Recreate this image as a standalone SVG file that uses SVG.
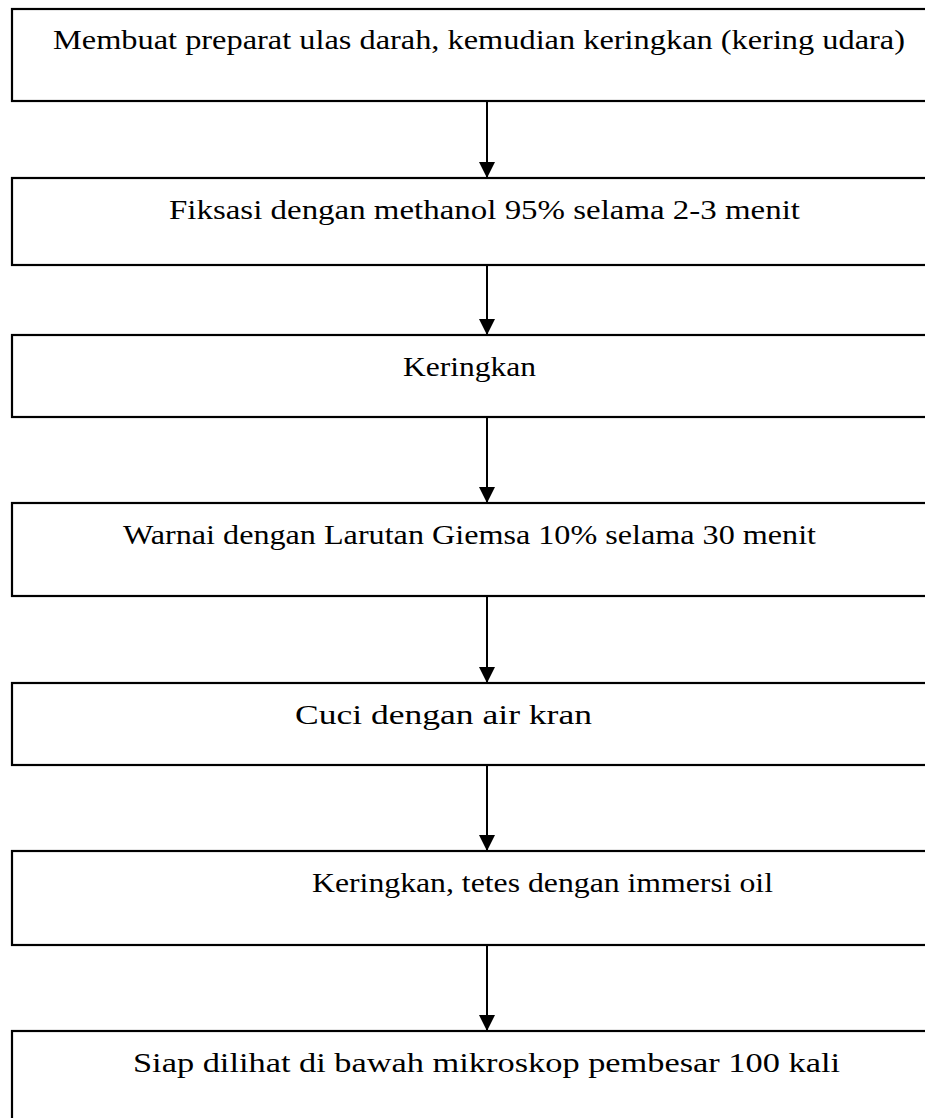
<svg xmlns="http://www.w3.org/2000/svg" width="925" height="1118" viewBox="0 0 925 1118">
<style>
.box{fill:#fff;stroke:#000;stroke-width:2.2}
.lbl{font-family:'Liberation Serif','Times New Roman',Tinos,'Nimbus Roman','Nimbus Roman No9 L',FreeSerif,Times,serif;font-size:28px;fill:#000}
.con{stroke:#000;stroke-width:2;fill:none}
</style>
<defs>
<marker id="ah" markerUnits="userSpaceOnUse" markerWidth="16" markerHeight="17" refX="16" refY="8" orient="auto">
<polygon points="0,0 16,8 0,16" fill="#000"/>
</marker>
</defs>
<rect width="925" height="1118" fill="#fff"/>
<g id="n1"><rect class="box" x="12" y="9" width="930" height="92"/><text class="lbl" x="53" y="49" textLength="852" lengthAdjust="spacingAndGlyphs">Membuat preparat ulas darah, kemudian keringkan (kering udara)</text></g>
<g id="n2"><rect class="box" x="12" y="178" width="930" height="87"/><text class="lbl" x="169" y="219" textLength="631" lengthAdjust="spacingAndGlyphs">Fiksasi dengan methanol 95% selama 2-3 menit</text></g>
<g id="n3"><rect class="box" x="12" y="335" width="930" height="82"/><text class="lbl" x="403" y="376" textLength="133" lengthAdjust="spacingAndGlyphs">Keringkan</text></g>
<g id="n4"><rect class="box" x="12" y="503" width="930" height="93"/><text class="lbl" x="123" y="544" textLength="693" lengthAdjust="spacingAndGlyphs">Warnai dengan Larutan Giemsa 10% selama 30 menit</text></g>
<g id="n5"><rect class="box" x="12" y="683" width="930" height="82"/><text class="lbl" x="295" y="724" textLength="297" lengthAdjust="spacingAndGlyphs">Cuci dengan air kran</text></g>
<g id="n6"><rect class="box" x="12" y="851" width="930" height="94"/><text class="lbl" x="312" y="892" textLength="461" lengthAdjust="spacingAndGlyphs">Keringkan, tetes dengan immersi oil</text></g>
<g id="n7"><rect class="box" x="12" y="1031" width="930" height="100"/><text class="lbl" x="133" y="1072" textLength="707" lengthAdjust="spacingAndGlyphs">Siap dilihat di bawah mikroskop pembesar 100 kali</text></g>
<g id="connectors">
<line class="con" x1="487" y1="101" x2="487" y2="178" marker-end="url(#ah)"/>
<line class="con" x1="487" y1="265" x2="487" y2="335" marker-end="url(#ah)"/>
<line class="con" x1="487" y1="417" x2="487" y2="503" marker-end="url(#ah)"/>
<line class="con" x1="487" y1="596" x2="487" y2="683" marker-end="url(#ah)"/>
<line class="con" x1="487" y1="765" x2="487" y2="851" marker-end="url(#ah)"/>
<line class="con" x1="487" y1="945" x2="487" y2="1031" marker-end="url(#ah)"/>
</g>
</svg>
